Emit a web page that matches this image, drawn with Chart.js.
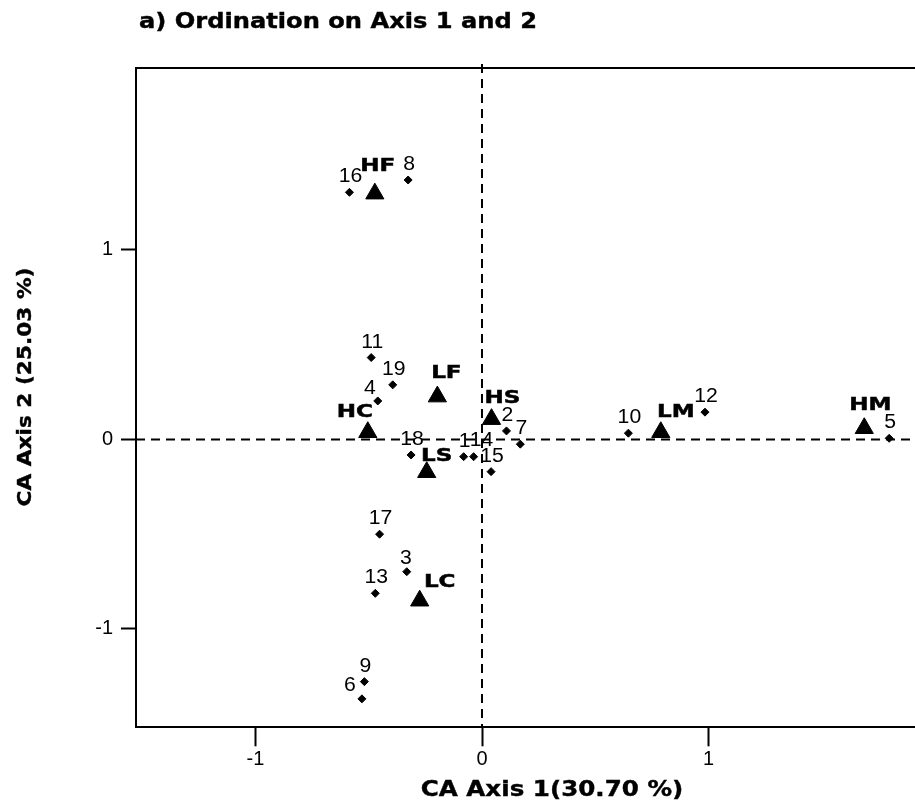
<!DOCTYPE html>
<html>
<head>
<meta charset="utf-8">
<script src="https://cdn.jsdelivr.net/npm/chart.js@4"></script>
<style>
  html, body { margin: 0; padding: 0; background: #fff; overflow: hidden; }
  #wrap { width: 980px; height: 800px; }
</style>
</head>
<body>
<div id="wrap"><canvas id="ca" width="980" height="800"></canvas></div>
<script>
// sites (diamonds)
const siteIds = ["1","2","3","4","5","6","7","8","9","10","11","12","13","14","15","16","17","18","19"];
const siteX = [-0.081, 0.108, -0.332, -0.460, 1.797, -0.530, 0.169, -0.326, -0.519, 0.646,
               -0.489, 0.984, -0.471, -0.037, 0.040, -0.585, -0.452, -0.313, -0.394];
const siteY = [-0.091, 0.045, -0.698, 0.203, 0.006, -1.369, -0.025, 1.369, -1.278, 0.033,
               0.432, 0.144, -0.812, -0.091, -0.170, 1.304, -0.500, -0.082, 0.288];

// habitat centroids (triangles)
const habLabels = ["HF","HC","LF","HS","LS","LC","LM","HM"];
const habX = [-0.473, -0.504, -0.197, 0.042, -0.244, -0.275, 0.789, 1.687];
const habY = [1.297, 0.038, 0.226, 0.107, -0.173, -0.851, 0.038, 0.059];

const xTicks = [-1, 0, 1];
const yTicks = [-1, 0, 1];

const titleText = "a) Ordination on Axis 1 and 2";
const xTitle = "CA Axis 1(30.70 %)";
const yTitle = "CA Axis 2 (25.03 %)";

// label nudges in px (label centre relative to the point)
const siteNudge = { "4": [-8, -14], "6": [-12, -15], "14": [8, -18], "3": [-1, -15] };
const habNudge = {
  HF: [3, -29], HC: [-13, -22], LF: [9, -25], HS: [11, -23],
  LS: [10, -18], LC: [20, -21], LM: [15, -22], HM: [6, -25]
};

function wideText(ctx, txt, x, y, sx, align, rot, heavy) {
  ctx.save();
  ctx.translate(x, y);
  if (rot) ctx.rotate(rot);
  ctx.scale(sx, 1);
  ctx.textAlign = align;
  ctx.textBaseline = "alphabetic";
  ctx.fillText(txt, 0, 0);
  if (heavy) {
    ctx.lineWidth = heavy;
    ctx.strokeStyle = "#000";
    ctx.strokeText(txt, 0, 0);
  }
  ctx.restore();
}

const extras = {
  id: "extras",
  beforeDatasetsDraw(chart) {
    const { ctx, chartArea: a, scales } = chart;
    const x0 = scales.x.getPixelForValue(0);
    const y0 = scales.y.getPixelForValue(0);
    ctx.save();
    ctx.strokeStyle = "#000";
    ctx.lineWidth = 2;
    // box top and right (the right side falls outside the window)
    ctx.beginPath();
    ctx.moveTo(a.left - 1, a.top);
    ctx.lineTo(a.right, a.top);
    ctx.lineTo(a.right, a.bottom);
    ctx.stroke();
    // zero lines
    ctx.setLineDash([9, 6]);
    ctx.beginPath();
    ctx.moveTo(x0, a.top - 4);
    ctx.lineTo(x0, a.bottom);
    ctx.moveTo(a.left, y0);
    ctx.lineTo(a.right, y0);
    ctx.stroke();
    ctx.restore();
  },
  afterDraw(chart) {
    const { ctx, scales } = chart;
    ctx.save();
    ctx.fillStyle = "#000";

    ctx.font = "20px 'Liberation Sans', Arial, sans-serif";
    siteIds.forEach((id, i) => {
      const n = siteNudge[id] || [1, -17];
      const px = scales.x.getPixelForValue(siteX[i]) + n[0];
      const py = scales.y.getPixelForValue(siteY[i]) + n[1];
      wideText(ctx, id, px, py + 7, 1.06, "center");
    });

    ctx.font = "bold 18px 'DejaVu Sans', sans-serif";
    habLabels.forEach((lab, i) => {
      const n = habNudge[lab];
      const px = scales.x.getPixelForValue(habX[i]) + n[0];
      const py = scales.y.getPixelForValue(habY[i]) + n[1];
      wideText(ctx, lab, px, py + 6.8, 1.28, "center", 0, 0.5);
    });

    // titles
    ctx.font = "bold 21px 'DejaVu Sans', sans-serif";
    wideText(ctx, titleText, 139, 28, 1.15, "left", 0, 0.4);
    wideText(ctx, xTitle, 552, 796, 1.17, "center", 0, 0.4);
    ctx.font = "bold 19px 'DejaVu Sans', sans-serif";
    wideText(ctx, yTitle, 31, 387, 1.14, "center", -Math.PI / 2, 0.4);
    ctx.restore();
  }
};

new Chart(document.getElementById("ca"), {
  type: "scatter",
  data: {
    datasets: [
      {
        label: "sites",
        data: siteX.map((v, i) => ({ x: v, y: siteY[i] })),
        pointStyle: "rectRot",
        pointRadius: 4,
        borderWidth: 1,
        backgroundColor: "#000",
        borderColor: "#000"
      },
      {
        label: "habitats",
        data: habX.map((v, i) => ({ x: v, y: habY[i] })),
        pointStyle: "triangle",
        pointRadius: 10.5,
        borderWidth: 1,
        backgroundColor: "#000",
        borderColor: "#000"
      }
    ]
  },
  options: {
    responsive: false,
    animation: false,
    events: [],
    layout: { padding: { top: 68, right: 10, left: 0, bottom: 0 } },
    plugins: { legend: { display: false }, title: { display: false }, tooltip: { enabled: false } },
    scales: {
      x: {
        type: "linear",
        min: -1.527,
        max: 2.147,
        afterFit: s => { s.height = 72.7; },
        afterBuildTicks: s => { s.ticks = xTicks.map(v => ({ value: v })); },
        grid: { drawOnChartArea: false, tickLength: 19, tickWidth: 2, tickColor: "#000", color: "#000" },
        border: { display: true, color: "#000", width: 2 },
        ticks: { color: "#000", padding: 1, font: { family: "'Liberation Sans', Arial, sans-serif", size: 20 } }
      },
      y: {
        type: "linear",
        min: -1.519,
        max: 1.96,
        afterFit: s => { s.width = 136; },
        afterBuildTicks: s => { s.ticks = yTicks.map(v => ({ value: v })); },
        grid: { drawOnChartArea: false, tickLength: 15, tickWidth: 2, tickColor: "#000", color: "#000" },
        border: { display: true, color: "#000", width: 2 },
        ticks: { color: "#000", padding: 8, font: { family: "'Liberation Sans', Arial, sans-serif", size: 20 } }
      }
    }
  },
  plugins: [extras]
});
</script>
</body>
</html>
